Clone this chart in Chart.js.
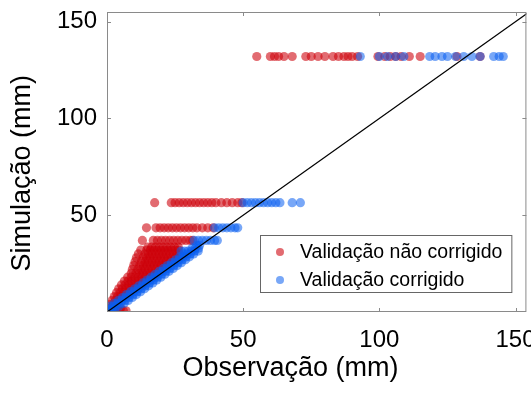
<!DOCTYPE html>
<html><head><meta charset="utf-8">
<script src="https://cdn.jsdelivr.net/npm/chart.js@4/dist/chart.umd.min.js"></script>
<style>html,body{margin:0;padding:0;background:#fff}</style>
</head><body>
<canvas id="c" width="531" height="394"></canvas>
<script>
// ---- data ----
const seriesLabels = ['Validação não corrigido', 'Validação corrigido'];
const xTitle = 'Observação (mm)';
const yTitle = 'Simulação (mm)';

// Simulated values (y) and the observed values (x) found at each simulated level
const redSimLevels = [0.6, 2, 4, 6, 8, 10, 12, 14, 16, 18, 20, 22, 24, 26, 28, 30, 32, 33.5, 37, 43.5, 56.5, 132];
const redObsAtLevels = [
  [3, 4.5, 6, 7],
  [0.8, 2.2, 3.6, 5],
  [1.2, 2.4],
  [1.9, 3.1, 4.3],
  [2.7, 3.9, 5.1, 6.3],
  [3.5, 4.8, 6.1, 7.4, 8.5],
  [4.3, 5.6, 6.9, 8.2, 9.5, 10.5],
  [5.3, 6.6, 7.9, 9.2, 10.5, 11.8, 12.5],
  [6.4, 7.7, 9, 10.3, 11.6, 12.9, 14.2],
  [7.6, 8.9, 10.2, 11.5, 12.8, 14.1, 15.4, 16.5],
  [8.9, 10.6, 11.9, 13.2, 14.5, 15.8, 17.1, 18.4],
  [9.3, 11.3, 12.6, 13.9, 15.2, 16.5, 17.8, 19.1, 20.4],
  [9.8, 12, 13.3, 14.6, 15.9, 17.2, 18.5, 19.8, 21.1, 22.2],
  [10.3, 12.6, 13.9, 15.2, 16.5, 17.8, 19.1, 20.4, 21.7, 23, 24.2],
  [10.8, 13.2, 14.5, 15.8, 17.1, 18.4, 19.7, 21, 22.3, 23.6, 24.9, 26],
  [11.5, 13.9, 15.2, 16.5, 17.8, 19.1, 20.4, 21.7, 23, 24.3, 25.6, 26.6],
  [12.4, 14.6, 15.9, 17.2, 18.5, 19.8, 21.1, 22.4, 23.7, 25, 26.3],
  [15, 16.4, 17.8, 19.2, 20.6, 22, 23.4, 24.8, 26.2],
  [13, 17, 18.5, 20, 21.5, 23, 24.5, 26, 27.5, 29, 30.5, 31.5],
  [14.5, 18, 19.5, 21, 22.5, 24, 25.5, 27, 28.5, 30, 31.5, 33, 35, 37, 39],
  [17.5, 23.6, 25, 26.5, 28, 29.5, 31, 32.5, 34, 35.5, 37, 38.5, 40, 42, 44, 46, 48, 49.5],
  [55, 60, 61.5, 63, 65, 68, 73, 75, 77.5, 80, 83, 85, 87, 88.5, 90, 92, 99.5, 102, 104, 106, 108, 111, 115, 128.5, 137]
];

const blueSimLevels = [0.3, 1.5, 3, 4.5, 6, 7.5, 9, 10.5, 12, 13.5, 15, 16.5, 18, 19.5, 21, 22.5, 24, 25.5, 27, 28.5, 30, 31.5, 33, 34.5, 37, 43.5, 56.5, 132];
const blueObsAtLevels = [
  [0, 1, 2],
  [0, 0.8, 1.8, 2.8],
  [1.2, 2.3, 3.4, 4.4],
  [2.7, 3.9, 5.1, 6.3],
  [4.2, 5.4, 6.6, 7.8],
  [5.7, 6.9, 8.1, 9.3],
  [7.2, 8.4, 9.6, 10.8],
  [8.7, 9.9, 11.1, 12.3],
  [10.2, 11.4, 12.6, 13.8],
  [11.7, 12.9, 14.1, 15.3],
  [13.2, 14.4, 15.6, 16.8],
  [14.7, 15.9, 17.1, 18.3],
  [16.2, 17.4, 18.6, 19.8],
  [17.7, 18.9, 20.1, 21.3],
  [19.2, 20.4, 21.6, 22.8],
  [20.7, 21.9, 23.1, 24.3],
  [22.2, 23.4, 24.6, 25.8],
  [23.7, 24.9, 26.1, 27.3],
  [25.2, 26.4, 27.6, 28.8],
  [26.7, 27.9, 29.1, 30.3],
  [28.2, 29.4, 30.6, 31.8],
  [27.2, 28.5, 29.8, 31, 32.2, 33.5],
  [31.2, 32.4, 33.6],
  [33, 34],
  [32, 33.5, 35, 36.5, 38, 39.5, 40.5],
  [39.5, 41, 42.5, 44, 45.5, 47, 48],
  [50, 51.5, 53, 54.5, 56, 57.5, 59, 60.5, 62, 63.5, 68, 71],
  [93, 100, 103, 106, 109, 118.5, 120.5, 123, 125, 128, 131, 134, 137, 142, 144, 145.5]
];

// 1:1 reference line end values
const identityLine = [0, 160];

const xTicks = [0, 50, 100, 150];
const yTicks = [50, 100, 150];

// ---- build points ----
function toPoints(levels, obsLists) {
  const pts = [];
  levels.forEach((lv, i) => obsLists[i].forEach(v => pts.push({ x: v, y: lv })));
  return pts;
}
const redPoints = toPoints(redSimLevels, redObsAtLevels);
const bluePoints = toPoints(blueSimLevels, blueObsAtLevels);

const FONT = '"Liberation Sans", Arial, Helvetica, sans-serif';
Chart.defaults.font.family = FONT;
Chart.defaults.color = '#000';

const NB = '\u00a0';

const framePlugin = {
  id: 'frameAndLegend',
  afterDatasetsDraw(chart) {
    const { ctx, chartArea: a, scales } = chart;
    const xs = scales.x, ys = scales.y;
    ctx.save();
    ctx.strokeStyle = '#8a8a8a';
    ctx.lineWidth = 1;
    ctx.strokeRect(a.left + 0.5, a.top + 0.5, a.right - a.left - 1, a.bottom - a.top - 1);
    const L = 4;
    ctx.beginPath();
    xs.ticks.forEach(t => {
      const p = Math.round(xs.getPixelForValue(t.value)) + 0.5;
      ctx.moveTo(p, a.bottom); ctx.lineTo(p, a.bottom - L);
      ctx.moveTo(p, a.top); ctx.lineTo(p, a.top + L);
    });
    ys.ticks.forEach(t => {
      const p = Math.round(ys.getPixelForValue(t.value)) + 0.5;
      ctx.moveTo(a.left, p); ctx.lineTo(a.left + L, p);
      ctx.moveTo(a.right, p); ctx.lineTo(a.right - L, p);
    });
    ctx.stroke();

    // legend box inside the plot area (bottom-right)
    const items = [chart.data.datasets[2], chart.data.datasets[1]];
    ctx.font = '19.5px ' + FONT;
    const textW = Math.max(...items.map(d => ctx.measureText(d.label).width));
    const padL = 20, gap = 20, padR = 9, rowH = 28, padT = 17, padB = 12;
    const boxW = padL + gap + textW + padR;
    const boxH = padT + rowH * (items.length - 1) + padB;
    const bx = Math.round(a.right - 15 - boxW), by = Math.round(a.bottom - 20 - boxH);
    ctx.fillStyle = '#fff';
    ctx.fillRect(bx, by, boxW, boxH);
    ctx.strokeStyle = '#666';
    ctx.strokeRect(bx + 0.5, by + 0.5, boxW, boxH);
    items.forEach((d, i) => {
      const cy = by + padT + i * rowH;
      ctx.fillStyle = d.backgroundColor;
      ctx.beginPath();
      ctx.arc(bx + padL, cy, 4, 0, Math.PI * 2);
      ctx.fill();
      ctx.fillStyle = '#000';
      ctx.textBaseline = 'middle';
      ctx.textAlign = 'left';
      ctx.fillText(d.label, bx + padL + gap, cy + 1);
    });
    ctx.restore();
  }
};

new Chart(document.getElementById('c'), {
  type: 'scatter',
  data: {
    datasets: [
      {
        type: 'line', label: '1:1',
        data: identityLine.map(v => ({ x: v, y: v })),
        borderColor: '#000', borderWidth: 1.2, pointRadius: 0, fill: false, order: 0
      },
      {
        label: seriesLabels[1], data: bluePoints,
        backgroundColor: 'rgba(10,95,240,0.55)', borderWidth: 0, pointRadius: 4.6, order: 1
      },
      {
        label: seriesLabels[0], data: redPoints,
        backgroundColor: 'rgba(205,0,10,0.58)', borderWidth: 0, pointRadius: 4.6, order: 2
      }
    ]
  },
  options: {
    responsive: false, animation: false, events: [],
    layout: { padding: { top: 12, right: 2, left: 0, bottom: 0 } },
    plugins: { legend: { display: false }, tooltip: { enabled: false } },
    scales: {
      x: {
        type: 'linear', min: 0, max: 154,
        afterBuildTicks(s) { s.ticks = xTicks.map(v => ({ value: v })); },
        ticks: { color: '#000', font: { size: 24 }, padding: 14, maxRotation: 0, includeBounds: false },
        grid: { display: false, drawTicks: false },
        border: { display: false },
        title: { display: true, text: xTitle + NB.repeat(7), color: '#000', font: { size: 27 }, padding: { top: 0, bottom: 9 } },
        afterFit(s) { s.height = 82; s.paddingLeft = 0; s.paddingRight = 0; }
      },
      y: {
        type: 'linear', min: 0, max: 155,
        afterBuildTicks(s) { s.ticks = yTicks.map(v => ({ value: v })); },
        ticks: { color: '#000', font: { size: 24 }, padding: 10, includeBounds: false },
        grid: { display: false, drawTicks: false },
        border: { display: false },
        title: { display: true, text: yTitle + NB.repeat(3), color: '#000', font: { size: 27 }, padding: { top: 6, bottom: 0 } },
        afterFit(s) { s.width = 107; s.paddingTop = 0; s.paddingBottom = 0; }
      }
    }
  },
  plugins: [framePlugin]
});
</script>
</body></html>
